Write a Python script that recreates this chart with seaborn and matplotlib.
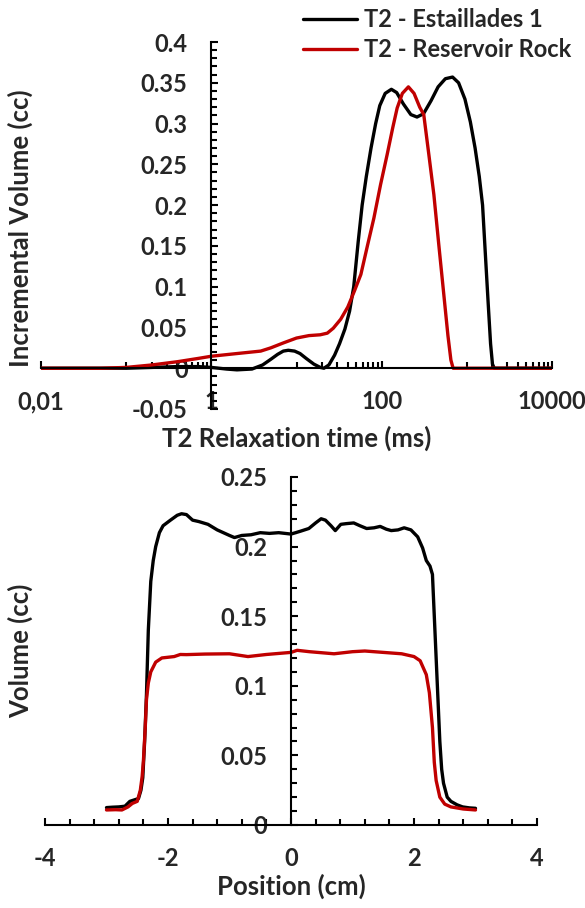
import matplotlib
matplotlib.use("Agg")
import matplotlib.pyplot as plt
import matplotlib.ticker as mticker
import seaborn as sns
import numpy as np

# ---------------- data ----------------
# Top panel: T2 relaxation distributions
t2_estaillades_x = [0.01, 0.1, 0.2, 0.4, 0.7, 1.0, 1.5, 2.0, 3.0, 4.0, 5.0, 6.0, 7.0, 8.0, 9.5,
                    11, 13, 16, 19, 21, 24, 28, 32, 37, 42, 47, 53, 59, 66, 75, 85, 95, 110,
                    130, 150, 180, 220, 260, 310, 380, 460, 560, 680, 800, 950, 1100, 1250,
                    1400, 1530, 1650, 1780, 1900, 2000, 2100, 2300, 10000]
t2_estaillades_y = [0, 0, 0.001, 0.002, 0.002, 0.001, -0.001, -0.002, -0.001, 0.004, 0.011, 0.017,
                    0.021, 0.022, 0.021, 0.018, 0.012, 0.005, 0.001, 0.0, 0.004, 0.016, 0.03,
                    0.048, 0.07, 0.10, 0.155, 0.20, 0.235, 0.27, 0.30, 0.322, 0.337, 0.342, 0.338,
                    0.324, 0.311, 0.308, 0.312, 0.328, 0.345, 0.355, 0.357, 0.35, 0.33, 0.302,
                    0.27, 0.235, 0.20, 0.14, 0.08, 0.03, 0.005, 0.0, 0.0, 0.0]

t2_reservoir_x = [0.01, 0.05, 0.1, 0.2, 0.4, 0.7, 1.0, 2.0, 3.8, 5, 7, 10, 14, 19, 23, 27, 33,
                  40, 48, 57, 68, 81, 97, 116, 135, 152, 175, 206, 240, 280, 312, 360, 410,
                  470, 537, 600, 650, 690, 10000]
t2_reservoir_y = [0, 0, 0.001, 0.004, 0.008, 0.012, 0.0147, 0.018, 0.021, 0.025, 0.031, 0.037,
                  0.040, 0.041, 0.043, 0.049, 0.06, 0.075, 0.095, 0.115, 0.15, 0.184, 0.225,
                  0.262, 0.295, 0.319, 0.337, 0.345, 0.337, 0.32, 0.311, 0.26, 0.213, 0.15,
                  0.09, 0.04, 0.01, 0.0, 0.0]

# Bottom panel: volume profiles
pos_estaillades_x = [-3.0, -2.9, -2.8, -2.7, -2.62, -2.55, -2.48, -2.44, -2.41, -2.38, -2.35,
                     -2.32, -2.28, -2.24, -2.2, -2.14, -2.08, -1.96, -1.85, -1.78, -1.7, -1.6,
                     -1.5, -1.35, -1.2, -1.1, -1.0, -0.92, -0.8, -0.65, -0.5, -0.35, -0.2, 0.0,
                     0.15, 0.29, 0.4, 0.49, 0.56, 0.65, 0.72, 0.81, 0.9, 1.02, 1.12, 1.23, 1.35,
                     1.45, 1.55, 1.63, 1.74, 1.84, 1.95, 2.06, 2.14, 2.2, 2.26, 2.3, 2.33, 2.36,
                     2.39, 2.42, 2.45, 2.48, 2.54, 2.6, 2.7, 2.79, 2.9, 3.0]
pos_estaillades_y = [0.0125, 0.0128, 0.013, 0.0135, 0.017, 0.018, 0.019, 0.025, 0.034, 0.06,
                     0.094, 0.14, 0.175, 0.19, 0.20, 0.21, 0.215, 0.219, 0.2225, 0.2236, 0.223,
                     0.219, 0.218, 0.216, 0.212, 0.210, 0.208, 0.2065, 0.208, 0.2085, 0.210,
                     0.2095, 0.210, 0.209, 0.211, 0.213, 0.217, 0.220, 0.219, 0.215, 0.2115,
                     0.216, 0.2165, 0.217, 0.215, 0.213, 0.2135, 0.2145, 0.2125, 0.2115, 0.212,
                     0.2135, 0.212, 0.207, 0.199, 0.19, 0.186, 0.18, 0.15, 0.12, 0.09, 0.06,
                     0.04, 0.03, 0.02, 0.017, 0.0145, 0.013, 0.0123, 0.012]

pos_reservoir_x = [-3.0, -2.85, -2.75, -2.65, -2.58, -2.5, -2.45, -2.42, -2.4, -2.37, -2.35,
                   -2.32, -2.28, -2.2, -2.1, -1.9, -1.8, -1.7, -1.4, -1.0, -0.7, -0.4, 0.0, 0.1,
                   0.3, 0.7, 1.0, 1.2, 1.5, 1.8, 2.0, 2.1, 2.2, 2.25, 2.3, 2.33, 2.36, 2.42,
                   2.5, 2.6, 2.8, 3.0]
pos_reservoir_y = [0.0108, 0.011, 0.0108, 0.013, 0.0155, 0.017, 0.025, 0.035, 0.046, 0.07,
                   0.090, 0.102, 0.110, 0.117, 0.120, 0.121, 0.1225, 0.1224, 0.1228, 0.123,
                   0.121, 0.1225, 0.124, 0.1255, 0.1245, 0.123, 0.1245, 0.125, 0.124, 0.123,
                   0.121, 0.118, 0.108, 0.095, 0.07, 0.045, 0.032, 0.02, 0.015, 0.013, 0.0115,
                   0.0108]

series_labels = ["T2 - Estaillades 1", "T2 - Reservoir Rock"]
top_xtick_values = [0.01, 1, 100, 10000]
top_xtick_labels = ["0,01", "1", "100", "10000"]

# ---------------- style ----------------
sns.set_style("white")
plt.rcParams["font.family"] = ["Lato", "DejaVu Sans"]
plt.rcParams["font.weight"] = "bold"

BLACK = "#000000"
RED = "#C00000"
FS = 17      # tick labels / legend
FSL = 18.5   # axis titles
LW = 2.4

fig = plt.figure(figsize=(5.85, 9.08), dpi=100)


def style_axes(ax):
    for s in ["top", "right"]:
        ax.spines[s].set_visible(False)
    for s in ["left", "bottom"]:
        ax.spines[s].set_linewidth(1.5)
        ax.spines[s].set_color("black")
    ax.tick_params(axis="both", which="both", direction="in", color="black", width=1.5,
                   bottom=True, left=True, top=False, right=False)
    ax.tick_params(axis="both", which="major", length=5)
    ax.tick_params(axis="both", which="minor", length=4)
    ax.tick_params(axis="x", which="major", pad=16, labelsize=FS)
    ax.tick_params(axis="y", which="major", pad=17, labelsize=FS)
    ax.xaxis.set_minor_formatter(mticker.NullFormatter())


# ---------------- top panel ----------------
ax1 = fig.add_axes([41 / 585, 1 - 409 / 908, 511 / 585, 367 / 908])
sns.lineplot(x=t2_estaillades_x, y=t2_estaillades_y, ax=ax1, color=BLACK, linewidth=LW,
             label=series_labels[0], legend=False)
sns.lineplot(x=t2_reservoir_x, y=t2_reservoir_y, ax=ax1, color=RED, linewidth=LW,
             label=series_labels[1], legend=False)
ax1.set_xscale("log")
ax1.set_xlim(0.01, 10000)
ax1.set_ylim(-0.05, 0.4)
ax1.spines["left"].set_position(("data", 1))
ax1.spines["bottom"].set_position(("data", 0))

ax1.xaxis.set_major_locator(mticker.FixedLocator(top_xtick_values))
ax1.xaxis.set_major_formatter(mticker.FixedFormatter(top_xtick_labels))
minor_x = []
for base in [0.01, 1, 100]:
    for k in range(1, 10):
        minor_x.append(base * 10 * k)
ax1.xaxis.set_minor_locator(mticker.FixedLocator(minor_x))
ax1.yaxis.set_major_locator(mticker.MultipleLocator(0.05))
ax1.yaxis.set_minor_locator(mticker.MultipleLocator(0.01))
ax1.yaxis.set_major_formatter(mticker.FuncFormatter(lambda v, p: "%g" % round(v, 3)))
style_axes(ax1)
ax1.set_xlabel("T2 Relaxation time (ms)", fontsize=FSL, fontweight="bold")
ax1.set_ylabel("Incremental Volume (cc)", fontsize=FSL, fontweight="bold")
ax1.xaxis.set_label_coords(0.5, -0.045)
ax1.yaxis.set_label_coords(-0.016, 0.493)

handles, labels = ax1.get_legend_handles_labels()
fig.legend(handles, labels, loc="upper left", bbox_to_anchor=(303 / 585, 1 - 8 / 908),
           frameon=False, handlelength=2.3, handletextpad=0.3,
           labelspacing=0.3, borderpad=0, borderaxespad=0,
           prop={"weight": "bold", "size": FS})

# ---------------- bottom panel ----------------
ax2 = fig.add_axes([45 / 585, 1 - 825 / 908, 492 / 585, 348 / 908])
sns.lineplot(x=pos_estaillades_x, y=pos_estaillades_y, ax=ax2, color=BLACK, linewidth=LW)
sns.lineplot(x=pos_reservoir_x, y=pos_reservoir_y, ax=ax2, color=RED, linewidth=LW)
ax2.set_xlim(-4, 4)
ax2.set_ylim(0, 0.25)
ax2.spines["left"].set_position(("data", 0))
ax2.spines["bottom"].set_position(("data", 0))
ax2.xaxis.set_major_locator(mticker.MultipleLocator(2))
ax2.xaxis.set_minor_locator(mticker.MultipleLocator(0.4))
ax2.yaxis.set_major_locator(mticker.MultipleLocator(0.05))
ax2.yaxis.set_minor_locator(mticker.MultipleLocator(0.01))
ax2.xaxis.set_major_formatter(mticker.FuncFormatter(lambda v, p: "%g" % v))
ax2.yaxis.set_major_formatter(mticker.FuncFormatter(lambda v, p: "%g" % round(v, 3)))
style_axes(ax2)
ax2.set_xlabel("Position (cm)", fontsize=FSL, fontweight="bold")
ax2.set_ylabel("Volume (cc)", fontsize=FSL, fontweight="bold")
ax2.xaxis.set_label_coords(0.5, -0.14)
ax2.yaxis.set_label_coords(-0.024, 0.50)

for ax in (ax1, ax2):
    for lbl in ax.get_xticklabels() + ax.get_yticklabels():
        lbl.set_fontweight("bold")

fig.savefig("out.png", dpi=100)
